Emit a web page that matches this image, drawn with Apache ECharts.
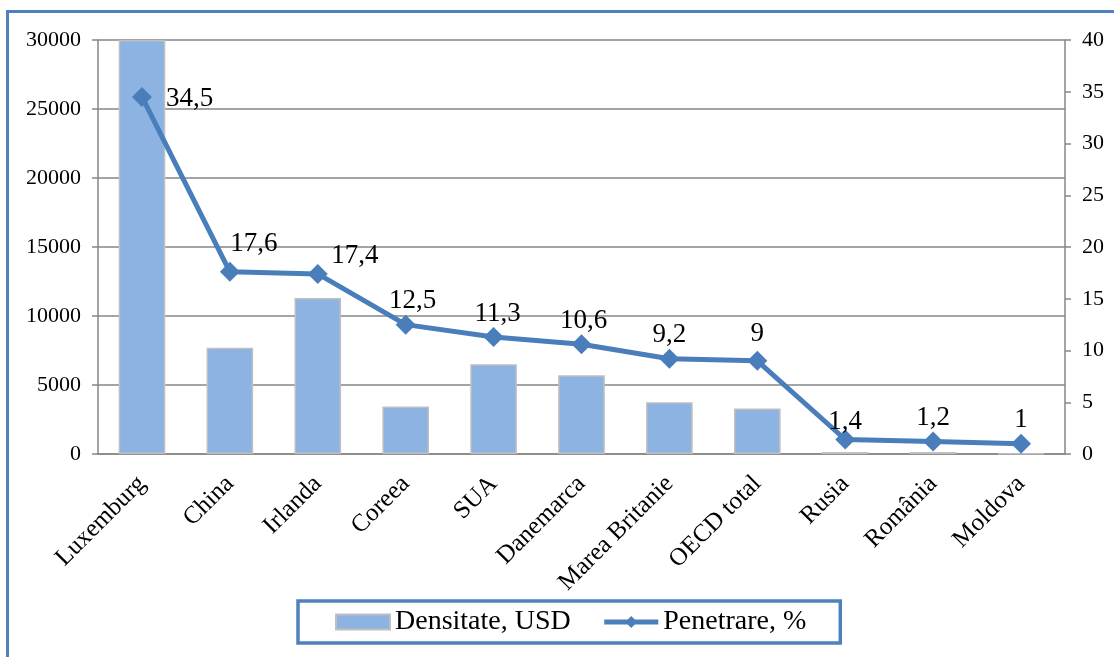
<!DOCTYPE html>
<html>
<head>
<meta charset="utf-8">
<script src="https://cdn.jsdelivr.net/npm/echarts@6/dist/echarts.min.js"></script>
<style>
  html, body { margin: 0; padding: 0; background: #fff; overflow: hidden; }
  #main { width: 1114px; height: 657px; }
</style>
</head>
<body>
<div id="main"></div>
<script>
/* date grafic */
const categories = ['Luxemburg', 'China', 'Irlanda', 'Coreea', 'SUA', 'Danemarca', 'Marea Britanie', 'OECD total', 'Rusia', 'România', 'Moldova']
const densitate = [30000, 7700, 11300, 3450, 6500, 5700, 3750, 3300, 150, 150, 50]
const penetrare = [34.5, 17.6, 17.4, 12.5, 11.3, 10.6, 9.2, 9, 1.4, 1.2, 1]
const leftTicks = { min: 0, max: 30000, interval: 5000 }
const rightTicks = { min: 0, max: 40, interval: 5 }

const font = '"Liberation Serif", "Times New Roman", serif'
const grey = '#868686'
const blue = '#4A7EBB'

var myChart = echarts.init(document.getElementById('main'))

// etichetele din Excel sunt mutate puțin manual
const labelTweaks = {
  0: { position: 'right', distance: 14, offset: [0, 2] },
  1: { offset: [24, -4] },
  2: { offset: [37, 5] },
  3: { offset: [7, 0] },
  4: { offset: [4, 0] },
  5: { offset: [2, 0] },
  7: { offset: [0, -3] },
  8: { offset: [0, 6] }
}
const lineData = penetrare.map((v, i) => labelTweaks[i] ? { value: v, label: labelTweaks[i] } : v)

const axisText = { fontSize: 22, color: '#000', fontFamily: font }

const option = {
  animation: false,
  textStyle: { fontFamily: font },
  graphic: [{
    type: 'rect',
    shape: { x: 7.5, y: 11.5, width: 1300, height: 800 },
    style: { fill: 'none', stroke: '#4F81BD', lineWidth: 3 },
    silent: true
  }],
  grid: { left: 98, right: 49, top: 40, bottom: 203 },
  legend: {
    left: 298,
    top: 601,
    itemGap: 31,
    itemWidth: 54,
    itemHeight: 15,
    padding: [7, 34, 7, 37],
    borderColor: '#4F81BD',
    borderWidth: 3.5,
    textStyle: { fontFamily: font, fontSize: 28, color: '#000' },
    data: [
      { name: 'Densitate, USD', icon: 'rect' },
      { name: 'Penetrare, %', lineStyle: { width: 5 } }
    ]
  },
  xAxis: {
    type: 'category',
    data: categories,
    axisLine: { lineStyle: { color: grey, width: 1.5 } },
    axisTick: { length: 6, lineStyle: { color: grey, width: 1.5 } },
    axisLabel: { ...axisText, fontSize: 25, rotate: 45, margin: 26, interval: 0 }
  },
  yAxis: [{
    type: 'value',
    ...leftTicks,
    axisLine: { show: true, lineStyle: { color: grey, width: 1.5 } },
    axisTick: { show: true, length: 6, lineStyle: { color: grey, width: 1.5 } },
    splitLine: { lineStyle: { color: grey, width: 1.5 } },
    axisLabel: { ...axisText, margin: 17, formatter: (v) => String(v) }
  }, {
    type: 'value',
    ...rightTicks,
    position: 'right',
    axisLine: { show: true, lineStyle: { color: grey, width: 1.5 } },
    axisTick: { show: true, length: 6, lineStyle: { color: grey, width: 1.5 } },
    splitLine: { show: false },
    axisLabel: { ...axisText, margin: 17 }
  }],
  series: [{
    name: 'Densitate, USD',
    type: 'bar',
    data: densitate,
    barWidth: '53%',
    itemStyle: { color: '#8DB3E2', borderColor: '#BFBFBF', borderWidth: 1.5 }
  }, {
    name: 'Penetrare, %',
    type: 'line',
    yAxisIndex: 1,
    data: lineData,
    symbol: 'diamond',
    symbolSize: 20,
    lineStyle: { color: blue, width: 5 },
    itemStyle: { color: blue },
    label: {
      show: true,
      position: 'top',
      distance: 0,
      fontSize: 27,
      color: '#000',
      fontFamily: font,
      formatter: (p) => String(p.value).replace('.', ',')
    }
  }]
}
myChart.setOption(option)
</script>
</body>
</html>
